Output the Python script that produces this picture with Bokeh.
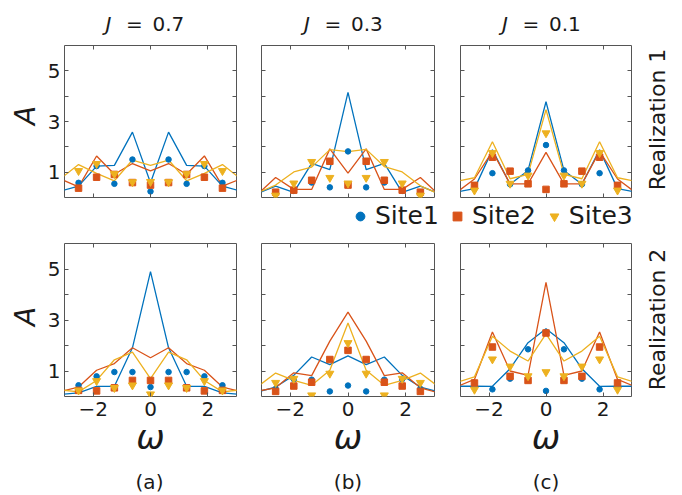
import math
from bokeh.plotting import figure
from bokeh.layouts import row, column
from bokeh.models import Range1d, LinearAxis, FixedTicker, Label, Legend, LegendItem
from bokeh.embed import file_html
from bokeh.resources import INLINE

# ---------------- data ----------------
omega_line = [-3.14, -2.51, -1.88, -1.26, -0.63, 0.0, 0.63, 1.26, 1.88, 2.51, 3.14]
omega_pts = [-2.51, -1.88, -1.26, -0.63, 0.0, 0.63, 1.26, 1.88, 2.51]

J_values = ["0.7", "0.3", "0.1"]
panel_tags = ["(a)", "(b)", "(c)"]
realizations = ["Realization 1", "Realization 2"]
site_names = ["Site1", "Site2", "Site3"]
x_ticks = [-2, 0, 2]
y_ticks = [1, 2, 3, 4, 5]
y_tick_labels = {1: "1", 2: "", 3: "3", 4: "", 5: "5"}

# Realization 1, J = 0.7
r1_j07_line_site1 = [0.25, 0.45, 1.24, 1.27, 2.58, 0.58, 2.58, 1.27, 1.24, 0.45, 0.25]
r1_j07_line_site2 = [0.73, 0.42, 1.64, 0.92, 1.34, 1.05, 1.34, 0.92, 1.64, 0.45, 0.73]
r1_j07_line_site3 = [0.74, 1.30, 0.95, 0.66, 1.48, 1.27, 1.48, 0.66, 0.95, 1.30, 0.74]
r1_j07_pts_site1 = [0.58, 1.24, 0.54, 1.50, 0.24, 1.50, 0.54, 1.24, 0.58]
r1_j07_pts_site2 = [0.37, 0.80, 0.91, 0.59, 0.49, 0.59, 0.91, 0.80, 0.37]
r1_j07_pts_site3 = [1.05, 1.33, 0.93, 0.61, 0.62, 0.61, 0.93, 1.33, 1.05]

# Realization 1, J = 0.3
r1_j03_line_site1 = [0.16, 0.45, 0.20, 1.35, 1.10, 4.15, 1.10, 1.35, 0.20, 0.45, 0.16]
r1_j03_line_site2 = [0.12, 0.79, 0.32, 0.32, 1.92, 0.96, 1.92, 0.32, 0.32, 0.79, 0.12]
r1_j03_line_site3 = [0.18, 0.49, 1.01, 1.20, 1.89, 1.81, 1.90, 1.22, 1.01, 0.46, 0.15]
r1_j03_pts_site1 = [0.20, 0.26, 0.59, 0.40, 1.82, 0.40, 0.59, 0.26, 0.20]
r1_j03_pts_site2 = [0.21, 0.29, 0.68, 1.43, 0.49, 1.43, 0.68, 0.29, 0.21]
r1_j03_pts_site3 = [0.08, 0.56, 1.41, 0.78, 0.56, 0.78, 1.41, 0.56, 0.08]

# Realization 1, J = 0.1
r1_j01_line_site1 = [0.22, 0.35, 1.88, 0.52, 1.07, 3.78, 1.07, 0.52, 1.88, 0.35, 0.22]
r1_j01_line_site2 = [0.20, 0.73, 1.82, 0.54, 0.54, 1.78, 0.54, 0.54, 1.82, 0.73, 0.20]
r1_j01_line_site3 = [0.64, 0.78, 2.20, 0.74, 0.91, 3.47, 0.91, 0.74, 2.20, 0.78, 0.64]
r1_j01_pts_site1 = [0.35, 0.96, 0.52, 1.07, 2.07, 1.07, 0.52, 0.96, 0.35]
r1_j01_pts_site2 = [0.48, 1.59, 1.04, 0.54, 0.32, 0.54, 1.04, 1.59, 0.48]
r1_j01_pts_site3 = [0.28, 1.76, 0.55, 0.87, 2.54, 0.87, 0.55, 1.76, 0.28]

# Realization 2, J = 0.7
r2_j07_line_site1 = [0.08, 0.14, 0.40, 0.40, 1.91, 4.90, 1.91, 0.40, 0.40, 0.14, 0.08]
r2_j07_line_site2 = [0.20, 0.37, 1.03, 1.29, 1.91, 1.52, 1.91, 1.29, 1.03, 0.37, 0.20]
r2_j07_line_site3 = [0.26, 0.18, 0.63, 1.44, 1.74, 0.70, 1.74, 1.44, 0.63, 0.18, 0.26]
r2_j07_pts_site1 = [0.44, 0.79, 0.96, 0.96, 0.37, 0.96, 0.96, 0.79, 0.44]
r2_j07_pts_site2 = [0.24, 0.22, 0.34, 0.63, 0.63, 0.63, 0.34, 0.22, 0.24]
r2_j07_pts_site3 = [0.24, 0.61, 0.34, 0.44, 0.09, 0.44, 0.34, 0.61, 0.24]

# Realization 2, J = 0.3
r2_j03_line_site1 = [0.18, 0.37, 0.83, 1.55, 1.25, 1.59, 1.25, 1.55, 0.83, 0.37, 0.18]
r2_j03_line_site2 = [0.21, 0.34, 0.93, 0.82, 2.17, 3.31, 2.17, 0.82, 0.93, 0.34, 0.14]
r2_j03_line_site3 = [0.38, 0.92, 0.63, 0.44, 1.03, 2.88, 1.03, 0.44, 0.63, 0.92, 0.38]
r2_j03_pts_site1 = [0.30, 0.68, 0.66, 0.20, 0.43, 0.20, 0.66, 0.68, 0.30]
r2_j03_pts_site2 = [0.20, 0.41, 0.56, 1.45, 1.81, 1.45, 0.56, 0.41, 0.20]
r2_j03_pts_site3 = [0.54, 0.70, 0.05, 0.90, 2.10, 0.90, 0.05, 0.70, 0.54]

# Realization 2, J = 0.1
r2_j01_line_site1 = [0.40, 0.41, 0.40, 1.09, 2.11, 2.66, 2.11, 1.09, 0.40, 0.41, 0.40]
r2_j01_line_site2 = [0.38, 0.67, 2.53, 1.00, 0.83, 4.48, 0.83, 1.00, 2.53, 0.67, 0.38]
r2_j01_line_site3 = [0.55, 0.77, 2.36, 1.78, 1.39, 2.46, 1.39, 1.78, 2.36, 0.77, 0.55]
r2_j01_pts_site1 = [0.40, 0.28, 0.70, 1.85, 0.22, 1.85, 0.70, 0.28, 0.40]
r2_j01_pts_site2 = [0.53, 1.94, 0.79, 0.63, 2.49, 0.63, 0.79, 1.94, 0.53]
r2_j01_pts_site3 = [0.27, 1.46, 1.18, 0.80, 0.96, 0.80, 1.18, 1.46, 0.27]

lines = {
    (0, 0): (r1_j07_line_site1, r1_j07_line_site2, r1_j07_line_site3),
    (0, 1): (r1_j03_line_site1, r1_j03_line_site2, r1_j03_line_site3),
    (0, 2): (r1_j01_line_site1, r1_j01_line_site2, r1_j01_line_site3),
    (1, 0): (r2_j07_line_site1, r2_j07_line_site2, r2_j07_line_site3),
    (1, 1): (r2_j03_line_site1, r2_j03_line_site2, r2_j03_line_site3),
    (1, 2): (r2_j01_line_site1, r2_j01_line_site2, r2_j01_line_site3),
}
points = {
    (0, 0): (r1_j07_pts_site1, r1_j07_pts_site2, r1_j07_pts_site3),
    (0, 1): (r1_j03_pts_site1, r1_j03_pts_site2, r1_j03_pts_site3),
    (0, 2): (r1_j01_pts_site1, r1_j01_pts_site2, r1_j01_pts_site3),
    (1, 0): (r2_j07_pts_site1, r2_j07_pts_site2, r2_j07_pts_site3),
    (1, 1): (r2_j03_pts_site1, r2_j03_pts_site2, r2_j03_pts_site3),
    (1, 2): (r2_j01_pts_site1, r2_j01_pts_site2, r2_j01_pts_site3),
}

# ---------------- style / layout ----------------
COLORS = ["#0072BD", "#D95319", "#EDB120"]
MARKERS = ["circle", "square", "inverted_triangle"]
MSIZES = [5.5, 6.5, 8]
FONT = "DejaVu Sans"
AX_COL = "#555555"
TXT = "#1a1a1a"

LEFT_STRIP_W = 44
RIGHT_STRIP_W = 35
FRAME_W = [174, 173, 171]
BORDER_L = [18, 13, 13]
BORDER_R = [12, 13, 4]
FRAME_H = [152, 153]
BORDER_T = [4, 4]
BORDER_B = [4, 70]
TOP_STRIP_H = 41
MID_STRIP_H = 38
BOT_STRIP_H = 27
TOTAL_W = LEFT_STRIP_W + sum(BORDER_L) + sum(FRAME_W) + sum(BORDER_R) + RIGHT_STRIP_W
SHIFT = 0.3  # baseline correction, fraction of the font size


def style_axis(ax, ticks, show_labels, overrides=None, standoff=4):
    ax.ticker = FixedTicker(ticks=ticks, minor_ticks=[])
    ax.major_tick_in = 4
    ax.major_tick_out = 0
    ax.minor_tick_line_color = None
    ax.major_tick_line_color = AX_COL
    ax.axis_line_color = None
    ax.axis_label = None
    ax.major_label_text_font = FONT
    ax.major_label_text_color = TXT
    if show_labels:
        ax.major_label_text_font_size = "20px"
        ax.major_label_standoff = standoff
        if overrides:
            ax.major_label_overrides = overrides
    else:
        ax.major_label_text_font_size = "1px"
        ax.major_label_standoff = 0
        ax.major_label_overrides = {t: "" for t in ticks}


def strip(w, h):
    s = figure(width=w, height=h, x_range=Range1d(0, w), y_range=Range1d(0, h),
               output_backend="svg", toolbar_location=None,
               x_axis_location=None, y_axis_location=None,
               min_border_left=0, min_border_right=0, min_border_top=0, min_border_bottom=0)
    s.grid.visible = False
    s.outline_line_color = None
    s.background_fill_color = "white"
    s.border_fill_color = "white"
    return s


def text(s, x, y, t, size, style="normal", align="center", angle=0.0):
    # (x, y): baseline anchor, measured from the frame's bottom-left corner
    if angle:
        x -= SHIFT * size
    else:
        y += SHIFT * size
    s.add_layout(Label(x=x, y=y, x_units="screen", y_units="screen", text=t,
                       text_font=FONT, text_font_size=f"{size}px", text_font_style=style,
                       text_color=TXT, text_align=align, text_baseline="alphabetic",
                       angle=angle, angle_units="rad"))


def panel(r, c):
    W = BORDER_L[c] + FRAME_W[c] + BORDER_R[c]
    H = BORDER_T[r] + FRAME_H[r] + BORDER_B[r]
    p = figure(width=W, height=H, x_range=Range1d(-3, 3), y_range=Range1d(0, 6),
               output_backend="svg", toolbar_location=None,
               min_border_left=BORDER_L[c], min_border_right=BORDER_R[c],
               min_border_top=BORDER_T[r], min_border_bottom=BORDER_B[r])
    p.grid.visible = False
    p.outline_line_color = AX_COL
    p.outline_line_width = 1
    p.background_fill_color = "white"
    p.border_fill_color = "white"
    style_axis(p.xaxis[0], x_ticks, r == 1, standoff=5)
    style_axis(p.yaxis[0], y_ticks, c == 0, overrides=y_tick_labels, standoff=4)
    if r == 1:
        ax = p.xaxis[0]
        ax.axis_label = "ω"
        ax.axis_label_text_font = FONT
        ax.axis_label_text_font_size = "34px"
        ax.axis_label_text_font_style = "italic"
        ax.axis_label_text_color = TXT
        ax.axis_label_standoff = -2
    top_ax = LinearAxis()
    style_axis(top_ax, x_ticks, False)
    p.add_layout(top_ax, "above")
    right_ax = LinearAxis()
    style_axis(right_ax, y_ticks, False)
    p.add_layout(right_ax, "right")
    for s in range(3):
        p.line(omega_line, lines[(r, c)][s], line_color=COLORS[s], line_width=1.3)
    for s in range(3):
        p.scatter(omega_pts, points[(r, c)][s], marker=MARKERS[s], size=MSIZES[s],
                  fill_color=COLORS[s], line_color=COLORS[s])
    return p


# column centres, from the left edge of the page
centers = []
x0 = LEFT_STRIP_W
for c in range(3):
    centers.append(x0 + BORDER_L[c] + FRAME_W[c] / 2.0)
    x0 += BORDER_L[c] + FRAME_W[c] + BORDER_R[c]

# top strip: column titles (baseline 29 px from the top)
top = strip(TOTAL_W, TOP_STRIP_H)
for c in range(3):
    text(top, centers[c] - 41, TOP_STRIP_H - 29, "J", 20, style="italic")
    text(top, centers[c] - 15, TOP_STRIP_H - 29, "=", 20)
    text(top, centers[c] + 3, TOP_STRIP_H - 29, J_values[c], 20, align="left")

# rows of panels with side strips (side strips share the panels' frame borders)
A_Y = [82, 80]        # above the frame bottom
REAL_Y = [78, 77]
rows = []
for r in range(2):
    H = BORDER_T[r] + FRAME_H[r] + BORDER_B[r]
    ls = strip(LEFT_STRIP_W, H)
    ls.min_border_top = BORDER_T[r]
    ls.min_border_bottom = BORDER_B[r]
    text(ls, 33, A_Y[r], "A", 28, style="italic", angle=math.pi / 2)
    rs = strip(RIGHT_STRIP_W, H)
    rs.min_border_top = BORDER_T[r]
    rs.min_border_bottom = BORDER_B[r]
    text(rs, 29, REAL_Y[r], realizations[r], 22, angle=math.pi / 2)
    rows.append(row(ls, panel(r, 0), panel(r, 1), panel(r, 2), rs, spacing=0))

# middle strip: legend (its glyph renderers are hidden, only the legend shows them)
mid = strip(TOTAL_W, MID_STRIP_H)
pts_r1 = points[(0, 0)]
leg_r = []
for s in range(3):
    leg_r.append(mid.scatter(omega_pts, pts_r1[s], marker=MARKERS[s], size=MSIZES[s],
                             fill_color=COLORS[s], line_color=COLORS[s], visible=False))
legend = Legend(items=[LegendItem(label=site_names[s], renderers=[leg_r[s]]) for s in range(3)],
                location=(349, 9), orientation="horizontal",
                glyph_width=22, glyph_height=22, label_standoff=4, spacing=7,
                padding=0, margin=0, border_line_alpha=0, background_fill_alpha=0,
                inactive_fill_alpha=0,
                label_text_font=FONT, label_text_font_size="25px", label_text_color=TXT)
mid.add_layout(legend)

# bottom strip: panel tags
bot = strip(TOTAL_W, BOT_STRIP_H)
for c in range(3):
    text(bot, centers[c], 6, panel_tags[c], 20)

layout = column(top, rows[0], mid, rows[1], bot, spacing=0)
open("out.html", "w").write(file_html(layout, INLINE))
